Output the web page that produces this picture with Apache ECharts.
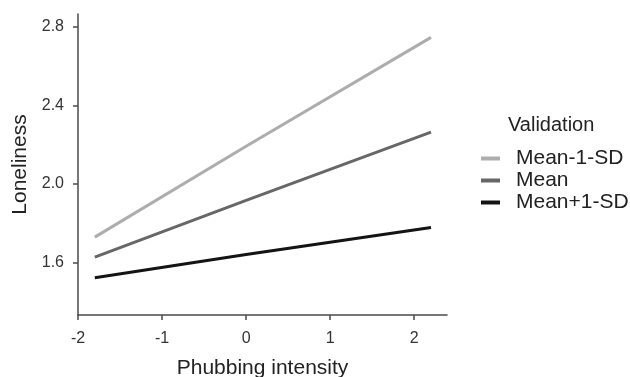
<!DOCTYPE html>
<html><head><meta charset="utf-8">
<script src="https://cdn.jsdelivr.net/npm/echarts@6/dist/echarts.min.js"></script>
<style>html,body{margin:0;padding:0;background:#fff}#c{width:630px;height:377px}</style>
</head><body><div id="c"></div>
<script>
const xValues = [-1.8, 0, 2.2];
const seriesNames = ['Mean-1-SD', 'Mean', 'Mean+1-SD'];
const meanMinus1SD = [1.729, 2.192, 2.747];
const meanValues = [1.627, 1.916, 2.264];
const meanPlus1SD = [1.522, 1.640, 1.778];
const xTicks = [-2, -1, 0, 1, 2];
const yTicks = [1.6, 2.0, 2.4, 2.8];
const colors = ['#adadad', '#676767', '#141414'];

const font = '"Liberation Sans", Arial, Helvetica, sans-serif';
const chart = echarts.init(document.getElementById('c'));
const allVals = [meanMinus1SD, meanValues, meanPlus1SD];
chart.setOption({
  animation: false,
  textStyle: { fontFamily: font },
  grid: { left: 78, top: 14, right: 183, bottom: 62, outerBoundsMode: 'none', containLabel: false },
  title: { text: 'Validation', left: 508, top: 115, padding: 0, textStyle: { fontFamily: font, fontSize: 20, fontWeight: 'normal', color: '#222' } },
  legend: {
    orient: 'vertical', left: 481, top: 148, padding: 0, itemGap: 1, itemWidth: 19, itemHeight: 4,
    icon: 'rect',
    data: seriesNames,
    textStyle: { fontFamily: font, fontSize: 21, color: '#222', padding: [0, 0, 0, 11] }
  },
  xAxis: {
    type: 'value', min: -2, max: 2.39,
    name: 'Phubbing intensity', nameLocation: 'middle', nameGap: 43,
    nameTextStyle: { fontFamily: font, fontSize: 21, color: '#222' },
    axisLine: { onZero: false, lineStyle: { color: '#4a4a4a', width: 1.5 } },
    axisTick: { show: true, length: 5, lineStyle: { color: '#4a4a4a', width: 1.5 }, customValues: xTicks },
    axisLabel: { customValues: xTicks, color: '#333', fontSize: 16, margin: 16 },
    splitLine: { show: false }
  },
  yAxis: {
    type: 'value', min: 1.332, max: 2.866,
    name: 'Loneliness', nameLocation: 'middle', nameGap: 47,
    nameTextStyle: { fontFamily: font, fontSize: 21, color: '#222' },
    axisLine: { show: true, onZero: false, lineStyle: { color: '#4a4a4a', width: 1.5 } },
    axisTick: { show: true, length: 5, lineStyle: { color: '#4a4a4a', width: 1.5 }, customValues: yTicks },
    axisLabel: { customValues: yTicks, color: '#333', fontSize: 16, margin: 14, formatter: v => v.toFixed(1) },
    splitLine: { show: false }
  },
  series: seriesNames.map((n, i) => ({
    name: n, type: 'line', showSymbol: false, symbol: 'none',
    data: xValues.map((x, j) => [x, allVals[i][j]]),
    lineStyle: { color: colors[i], width: 3 },
    itemStyle: { color: colors[i] }
  }))
});
</script></body></html>
